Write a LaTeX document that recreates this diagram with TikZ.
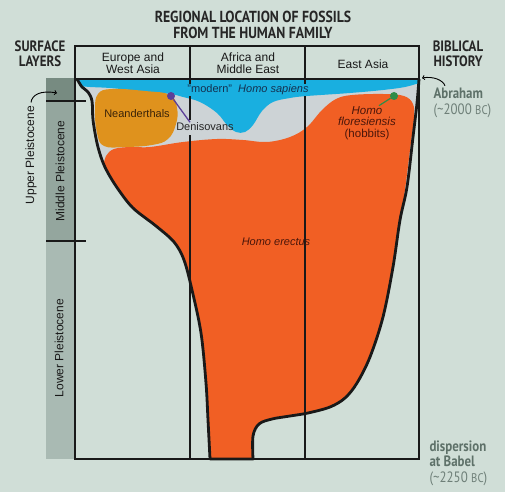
\documentclass[tikz,border=0pt]{standalone}
\usepackage{fontspec}
\setmainfont{Liberation Sans}
\newfontfamily\headfont[FakeStretch=0.86]{PT Sans}

\definecolor{figBg}     {HTML}{D0DED7}
\definecolor{figStripA} {HTML}{778B81}
\definecolor{figStripB} {HTML}{94A69E}
\definecolor{figStripC} {HTML}{A9BAB3}
\definecolor{figSea}    {HTML}{19AFE0}
\definecolor{figMist}   {HTML}{CDD3D6}
\definecolor{figErectus}{HTML}{F15F24}
\definecolor{figNeand}  {HTML}{DF921D}
\definecolor{figDeni}   {HTML}{5C3F98}
\definecolor{figFlores} {HTML}{2F8C48}
\definecolor{figNote}   {HTML}{5E7169}
\definecolor{figNoteLt} {HTML}{6E7F78}
\definecolor{figRedInk} {HTML}{4B160A}
\definecolor{figNeandInk}{HTML}{3A2308}
\definecolor{figSeaInk} {HTML}{14304F}

\begin{document}
\begin{tikzpicture}[x=1pt, y=-1pt,
    boxline/.style={line width=2.6pt, black!90},
    colline/.style={line width=1.1pt, black!90},
    outline/.style={line width=2.8pt, black!90, line join=round},
    colhead/.style={font=\fontsize{12}{12.5}\selectfont, align=center, text=black!90},
    heading/.style={font=\headfont\bfseries\fontsize{16}{15.5}\selectfont, align=center, text=black!85},
    era/.style={font=\fontsize{12}{12}\selectfont, rotate=90, text=black!90},
    tag/.style={font=\fontsize{11}{11}\selectfont, inner sep=0.5pt},
    dot/.style={circle, inner sep=0pt, minimum size=8pt},
    bible/.style={font=\headfont\fontsize{15}{15.5}\selectfont, align=left, anchor=west}]
        \fill[figBg] (0,0) rectangle (505,492);
        % surface layers strip
        \fill[figStripA] (46,78) rectangle (75,101);
        \fill[figStripB] (46,101) rectangle (75,241);
        \fill[figStripC] (46,241) rectangle (75,459);
        \draw[line width=2pt, black!90] (46,101) -- (86,101);
        \draw[line width=2pt, black!90] (46,241) -- (86,241);
        % fossil regions, clipped to the outline
        \begin{scope}
          \clip plot[smooth, tension=0.55] coordinates {(77,79) (82,87) (88,92) (92,101) (93,120) (97,143) (102,160) (108,173) (118,189) (133,208) (156,226) (174,242) (184,260) (192,290) (201,333) (206,383) (208,420) (210,459)}
                -- plot[smooth, tension=0.55] coordinates {(253,459) (253,436) (259,424) (272,419) (290,416) (308,413) (330,407) (345,398) (357,383) (370,357) (383,317) (393,267) (400,220) (407,187) (413,137) (417,103) (419,79)} -- cycle;
          \fill[figMist] (60,60) rectangle (430,470);
          \fill[figSea] (70,70) -- (425,70) -- (425,82)
                -- plot[smooth, tension=0.6] coordinates {(419,83) (405,87) (383,90) (350,93) (307,96) (290,98) (273,102) (262,111) (253,125) (245,132) (236,132) (227,125) (217,113) (200,102) (183,97) (170,94) (140,91) (110,88) (90,87) (80,86)}
                -- (70,86) -- cycle;
          \fill[figErectus] (90,470) -- (90,175)
                -- plot[smooth, tension=0.6] coordinates {(103,168) (106,156) (114,149) (130,147) (150,147) (183,142) (217,139) (243,140) (267,142) (290,137) (307,127) (322,110) (336,99) (352,95) (383,94) (404,96) (413,104) (414,118) (411,142) (406,182) (401,220)}
                -- (430,240) -- (430,470) -- cycle;
        \end{scope}
        \fill[figNeand] plot[smooth cycle, tension=0.7] coordinates {(98,94) (112,89) (145,91) (170,95) (177,108) (176,124) (168,139) (152,145) (125,147) (104,146) (97,133) (95,110)};
        \draw[outline] plot[smooth, tension=0.55] coordinates {(77,79) (82,87) (88,92) (92,101) (93,120) (97,143) (102,160) (108,173) (118,189) (133,208) (156,226) (174,242) (184,260) (192,290) (201,333) (206,383) (208,420) (210,459)}
              -- plot[smooth, tension=0.55] coordinates {(253,459) (253,436) (259,424) (272,419) (290,416) (308,413) (330,407) (345,398) (357,383) (370,357) (383,317) (393,267) (400,220) (407,187) (413,137) (417,103) (419,79)};
        % frame and columns
        \draw[colline] (190,46) -- (190,120) (190,135) -- (190,459);
        \draw[colline] (305,46) -- (305,459);
        \draw[boxline] (75,46) rectangle (419,459);
        \draw[boxline] (75,79) -- (419,79);
        % headings
        \node[heading] (title) at (253,25) {REGIONAL LOCATION OF FOSSILS\\FROM THE HUMAN FAMILY};
        \node[heading, font=\headfont\bfseries\fontsize{15}{14.5}\selectfont] (surface) at (40,54) {SURFACE\\LAYERS};
        \node[heading, font=\headfont\bfseries\fontsize{15}{14.5}\selectfont] (biblical) at (458,54) {BIBLICAL\\HISTORY};
        \node[colhead] (colEurope) at (133,63) {Europe and\\West Asia};
        \node[colhead] (colAfrica) at (248,63) {Africa and\\Middle East};
        \node[colhead] (colEast) at (363,64) {East Asia};
        % eras
        \node[era] (upperLab) at (31,155) {Upper Pleistocene};
        \node[era] (midLab) at (60,171) {Middle Pleistocene};
        \node[era] (lowLab) at (59,348) {Lower Pleistocene};
        \coordinate (upTip) at (57,93);
        \draw[->, line width=0.9pt] (upperLab.east) .. controls (32,95) and (40,90) .. (upTip);
        % fossil labels
        \node[tag, text=figSeaInk, fill=figSea] (sapiens) at (248,90) {"modern"\ \ \textit{Homo sapiens}};
        \node[tag, text=figNeandInk] (neand) at (137,114) {Neanderthals};
        \node[tag, text=black!85] (deniso) at (205,127) {Denisovans};
        \node[dot, fill=figDeni] (deniDot) at (171,96) {};
        \draw[line width=1.3pt, figDeni] (deniDot) -- ([xshift=-15pt]deniso.north);
        \node[tag, text=figRedInk, align=center, font=\fontsize{11.5}{11.5}\selectfont] (flores) at (367,123) {\textit{Homo}\\\textit{floresiensis}\\(hobbits)};
        \node[dot, fill=figFlores] (floDot) at (394,96) {};
        \draw[line width=1.2pt, figFlores] (floDot) -- ([xshift=12pt]flores.north);
        \node[tag, text=figRedInk] (erectus) at (276,242) {\textit{Homo erectus}};
        % biblical history
        \node[bible] (abraham) at (430,103) {\textcolor{figNote}{\bfseries Abraham}\\\textcolor{figNoteLt}{(\textasciitilde2000 {\fontsize{12.5}{15}\selectfont BC})}};
        \coordinate (abrTip) at (422,78);
        \draw[->, line width=0.9pt] ([xshift=15pt, yshift=-1pt]abraham.north west) .. controls (443,80) and (433,76) .. (abrTip);
        \node[bible] (babel) at (426,463) {\textcolor{figNote}{\bfseries dispersion}\\\textcolor{figNote}{\bfseries at Babel}\\\textcolor{figNoteLt}{(\textasciitilde2250 {\fontsize{12.5}{15}\selectfont BC})}};
      \end{tikzpicture}
\end{document}
